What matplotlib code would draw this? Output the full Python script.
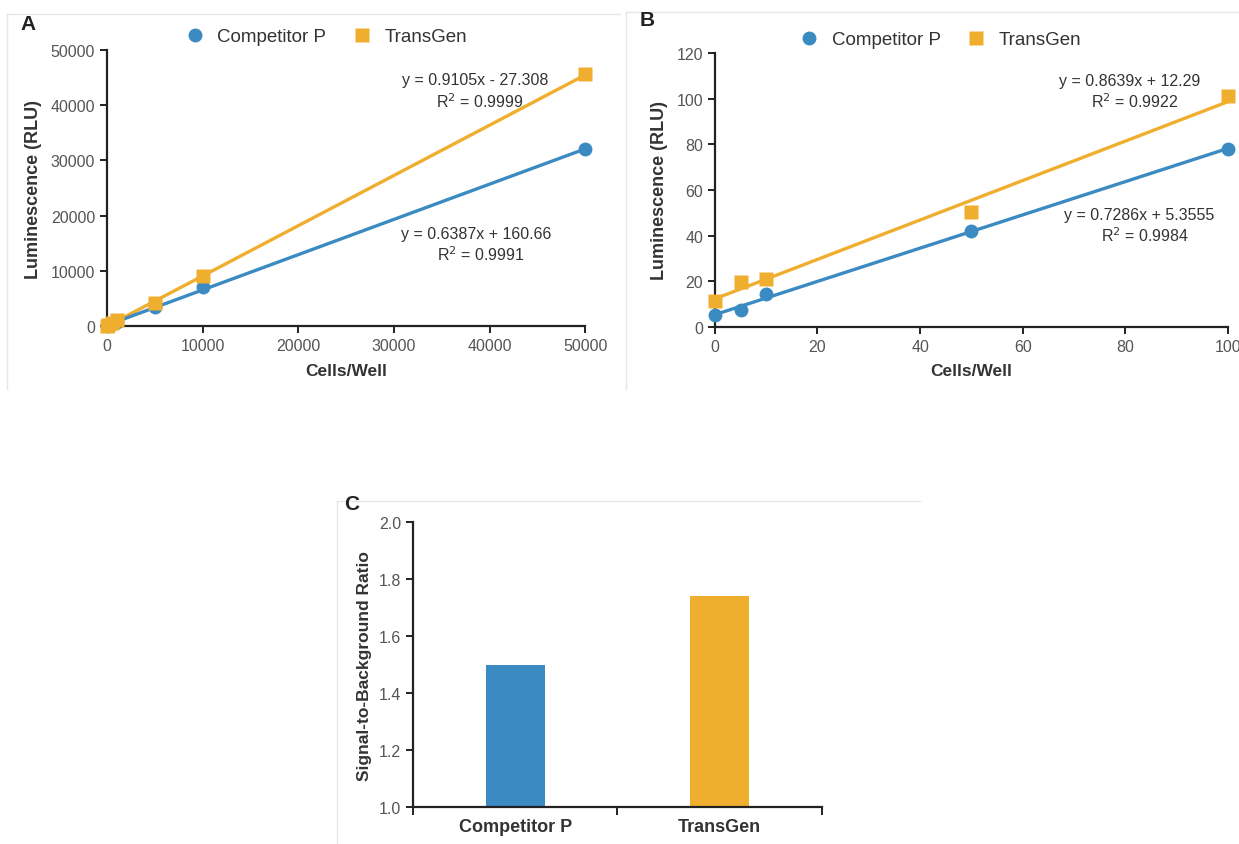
import numpy as np
import matplotlib
matplotlib.use("Agg")
import matplotlib.pyplot as plt
from matplotlib.lines import Line2D

plt.rcParams['font.family'] = ['Liberation Sans', 'DejaVu Sans']

# ---------------- data ----------------
series_names = ["Competitor P", "TransGen"]

a_cells = [0, 100, 500, 1000, 5000, 10000, 50000]
a_comp = [50, 150, 400, 700, 3500, 7000, 32000]
a_trans = [0, 150, 500, 1000, 4200, 9000, 45700]
a_fit_comp = (0.6387, 160.66, 0.9991)
a_fit_trans = (0.9105, -27.308, 0.9999)

b_cells = [0, 5, 10, 50, 100]
b_comp = [5, 7.5, 14.5, 42, 78]
b_trans = [11.5, 19.5, 21, 50.5, 101]
b_fit_comp = (0.7286, 5.3555, 0.9984)
b_fit_trans = (0.8639, 12.29, 0.9922)

c_categories = ["Competitor P", "TransGen"]
c_values = [1.50, 1.74]

# ---------------- style ----------------
BLUE = "#3b8bc2"
ORANGE = "#f0ae2e"
TICK_C = "#555555"
LAB_C = "#333333"
SPINE_C = "#222222"

fig = plt.figure(figsize=(12.39, 8.45), dpi=100)

# faint panel frames
def fline(x0, y0, x1, y1):
    fig.add_artist(Line2D([x0 / 1239, x1 / 1239], [1 - y0 / 845, 1 - y1 / 845],
                          color="#e6e6e6", lw=1))

fline(7, 15, 620, 15)
fline(7, 15, 7, 390)
fline(626, 13, 1239, 13)
fline(626, 13, 626, 390)
fline(337, 502, 920, 502)
fline(337, 502, 337, 845)


def style_axes(ax):
    for s in ["top", "right"]:
        ax.spines[s].set_visible(False)
    for s in ["left", "bottom"]:
        ax.spines[s].set_color(SPINE_C)
        ax.spines[s].set_linewidth(1.6)
    ax.tick_params(axis="both", colors=SPINE_C, labelcolor=TICK_C,
                   labelsize=11.5, width=1.4, length=5, direction="out")


def fmt_eq(m, b):
    sign = "-" if b < 0 else "+"
    return f"y = {m:g}x {sign} {abs(b):g}"


def scatter_panel(ax, cells, comp, trans, fit_comp, fit_trans, xmax, ymax, ystep,
                  xstep, txt_trans, txt_comp, leg_x):
    xs = np.array([0, xmax])
    ax.plot(xs, fit_trans[0] * xs + fit_trans[1], color=ORANGE, lw=2.4, zorder=2,
            clip_on=False)
    ax.plot(xs, fit_comp[0] * xs + fit_comp[1], color=BLUE, lw=2.4, zorder=2,
            clip_on=False)
    ax.plot(cells, comp, "o", color=BLUE, ms=10, mec="none", zorder=3,
            clip_on=False, label=series_names[0])
    ax.plot(cells, trans, "s", color=ORANGE, ms=10, mec="none", zorder=3,
            clip_on=False, label=series_names[1])
    ax.set_xlim(0, xmax)
    ax.set_ylim(0, ymax)
    ax.set_xticks(np.arange(0, xmax + 1, xstep))
    ax.set_yticks(np.arange(0, ymax + 1, ystep))
    style_axes(ax)
    ax.set_xlabel("Cells/Well", fontsize=12.5, fontweight="bold", color=LAB_C,
                  labelpad=7)
    ax.set_ylabel("Luminescence (RLU)", fontsize=13, fontweight="bold",
                  color=LAB_C, labelpad=6)
    ax.text(txt_trans[0], txt_trans[1], fmt_eq(fit_trans[0], fit_trans[1]),
            transform=ax.transAxes, ha="center", va="center", fontsize=11.5,
            color=LAB_C)
    ax.text(txt_trans[0] + 0.01, txt_trans[2], f"R$^2$ = {fit_trans[2]:.4f}",
            transform=ax.transAxes, ha="center", va="center", fontsize=11.5,
            color=LAB_C)
    ax.text(txt_comp[0], txt_comp[1], fmt_eq(fit_comp[0], fit_comp[1]),
            transform=ax.transAxes, ha="center", va="center", fontsize=11.5,
            color=LAB_C)
    ax.text(txt_comp[0] + 0.01, txt_comp[2], f"R$^2$ = {fit_comp[2]:.4f}",
            transform=ax.transAxes, ha="center", va="center", fontsize=11.5,
            color=LAB_C)
    leg = ax.legend(loc="lower center", bbox_to_anchor=(leg_x, 0.99), ncol=2,
                    frameon=False, fontsize=13.5, handletextpad=0.7,
                    columnspacing=1.4, handlelength=1.0, borderaxespad=0.0)
    for t in leg.get_texts():
        t.set_color(LAB_C)


# Panel A
axA = fig.add_axes([0.0864, 0.613, 0.386, 0.3266])
scatter_panel(axA, a_cells, a_comp, a_trans, a_fit_comp, a_fit_trans,
              50000, 50000, 10000, 10000,
              (0.77, 0.895, 0.815), (0.772, 0.337, 0.264), 0.458)
fig.text(20 / 1239, 1 - 25 / 845, "A", fontsize=15, fontweight="bold",
         color="#222222", va="center", ha="left")

# Panel B
axB = fig.add_axes([0.577, 0.612, 0.414, 0.324])
scatter_panel(axB, b_cells, b_comp, b_trans, b_fit_comp, b_fit_trans,
              100, 120, 20, 20,
              (0.809, 0.901, 0.828), (0.828, 0.409, 0.336), 0.44)
fig.text(640 / 1239, 1 - 20 / 845, "B", fontsize=15, fontweight="bold",
         color="#222222", va="center", ha="left")

# Panel C
axC = fig.add_axes([0.3333, 0.0438, 0.330, 0.337])
pos = np.arange(len(c_categories))
axC.bar(pos, np.array(c_values) - 1.0, bottom=1.0, width=0.29,
        color=[BLUE, ORANGE], zorder=2)
axC.set_xlim(-0.5, len(c_categories) - 0.5)
axC.set_ylim(1.0, 2.0)
axC.set_yticks(np.arange(1.0, 2.01, 0.2))
axC.set_yticklabels([f"{v:.1f}" for v in np.arange(1.0, 2.01, 0.2)])
style_axes(axC)
axC.set_xticks(np.arange(-0.5, len(c_categories), 1.0))
axC.set_xticklabels([])
axC.set_xticks(pos, minor=True)
axC.set_xticklabels(c_categories, minor=True, fontsize=13, fontweight="bold",
                    color=LAB_C)
axC.tick_params(axis="x", which="minor", length=0, pad=8)
axC.tick_params(axis="x", which="major", length=6)
axC.set_ylabel("Signal-to-Background Ratio", fontsize=12.5, fontweight="bold",
               color=LAB_C, labelpad=5)
fig.text(344 / 1239, 1 - 505 / 845, "C", fontsize=15, fontweight="bold",
         color="#222222", va="center", ha="left")

fig.savefig("out.png", dpi=100)
